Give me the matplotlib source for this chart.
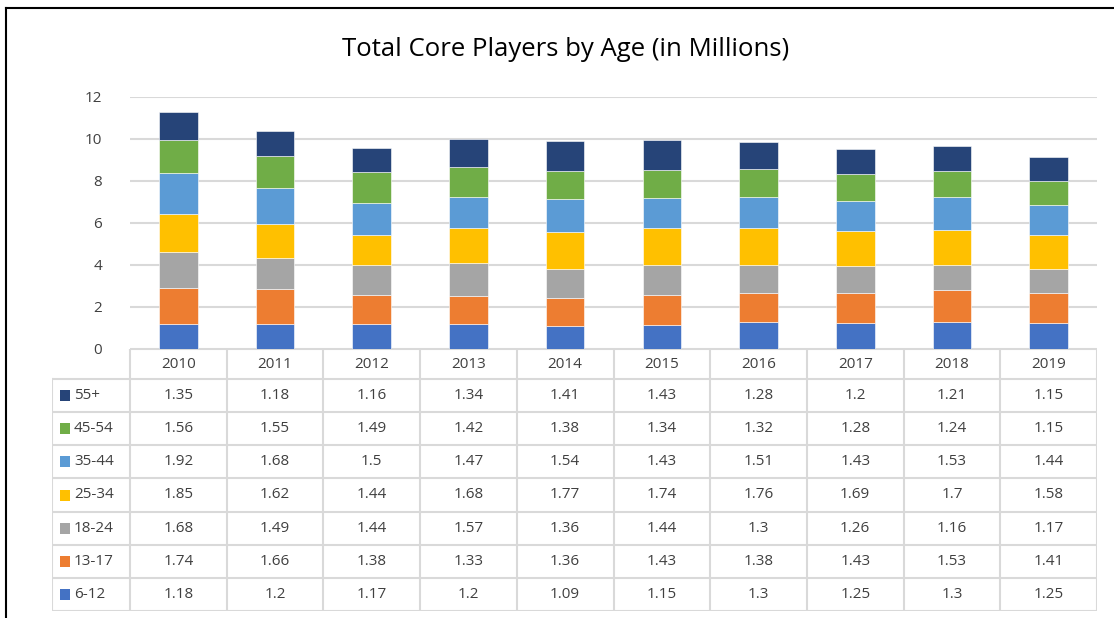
import matplotlib.pyplot as plt
from matplotlib.lines import Line2D
from matplotlib.patches import Rectangle

years = ["2010", "2011", "2012", "2013", "2014", "2015", "2016", "2017", "2018", "2019"]
groups = ["6-12", "13-17", "18-24", "25-34", "35-44", "45-54", "55+"]
colors = ["#4472C4", "#ED7D31", "#A5A5A5", "#FFC000", "#5B9BD5", "#70AD47", "#264478"]

age_6_12 = [1.18, 1.2, 1.17, 1.2, 1.09, 1.15, 1.3, 1.25, 1.3, 1.25]
age_13_17 = [1.74, 1.66, 1.38, 1.33, 1.36, 1.43, 1.38, 1.43, 1.53, 1.41]
age_18_24 = [1.68, 1.49, 1.44, 1.57, 1.36, 1.44, 1.3, 1.26, 1.16, 1.17]
age_25_34 = [1.85, 1.62, 1.44, 1.68, 1.77, 1.74, 1.76, 1.69, 1.7, 1.58]
age_35_44 = [1.92, 1.68, 1.5, 1.47, 1.54, 1.43, 1.51, 1.43, 1.53, 1.44]
age_45_54 = [1.56, 1.55, 1.49, 1.42, 1.38, 1.34, 1.32, 1.28, 1.24, 1.15]
age_55 = [1.35, 1.18, 1.16, 1.34, 1.41, 1.43, 1.28, 1.2, 1.21, 1.15]

series = [age_6_12, age_13_17, age_18_24, age_25_34, age_35_44, age_45_54, age_55]

plt.rcParams['font.family'] = ['Open Sans', 'DejaVu Sans']

W, H = 1114, 618
fig = plt.figure(figsize=(W / 100, H / 100), dpi=100)

# pixel helpers
def fx(px):
    return px / W

def fy(py):
    return 1 - py / H

grid_col = "#d9d9d9"
txt_col = "#404040"
fs = 11

# bar chart area
x0, x1 = 130, 1097
ax = fig.add_axes([fx(x0), fy(349), fx(x1) - fx(x0), fy(97) - fy(349)])
n = len(years)
xs = list(range(n))
bottom = [0] * n
for vals, col in zip(series, colors):
    ax.bar(xs, vals, width=0.4, bottom=bottom, color=col, edgecolor="white", linewidth=0.4, zorder=3)
    bottom = [b + v for b, v in zip(bottom, vals)]
ax.set_xlim(-0.5, n - 0.5)
ax.set_ylim(0, 12)
ax.set_yticks(range(0, 13, 2))
ax.yaxis.grid(True, color=grid_col, linewidth=1.5, zorder=0)
ax.tick_params(axis="y", length=0, pad=20, labelsize=fs, labelcolor=txt_col)
ax.set_xticks([])
for s in ax.spines.values():
    s.set_visible(False)

fig.text(fx(566), fy(49), "Total Core Players by Age (in Millions)", ha="center", va="center",
         fontsize=18.5, color="#000000")

# data table under the bars
tx0 = 52
tab = fig.add_axes([fx(tx0), fy(611), fx(x1) - fx(tx0), fy(349) - fy(611)])
tab.set_xlim(tx0, x1)
tab.set_ylim(611, 349)
tab.axis("off")
cw = (x1 - x0) / n
head_top, head_bot = 349, 379
rh = (611 - head_bot) / len(groups)
lw = 1.5

# horizontal lines
tab.plot([x0, x1], [head_top, head_top], color=grid_col, lw=lw)
for i in range(len(groups) + 1):
    y = head_bot + i * rh
    tab.plot([tx0, x1], [y, y], color=grid_col, lw=lw)
# vertical lines
for j in range(n + 1):
    x = x0 + j * cw
    tab.plot([x, x], [head_top, 611], color=grid_col, lw=lw)
tab.plot([tx0, tx0], [head_bot, 611], color=grid_col, lw=lw)

for j, yr in enumerate(years):
    tab.text(x0 + (j + 0.5) * cw, (head_top + head_bot) / 2 + 1, yr, ha="center", va="center",
             fontsize=fs, color=txt_col)

# rows listed top-down from oldest group
for i, gi in enumerate(reversed(range(len(groups)))):
    yc = head_bot + (i + 0.5) * rh
    tab.add_patch(Rectangle((60, yc - 5.5), 10, 11, color=colors[gi], lw=0))
    tab.text(74, yc, groups[gi], ha="left", va="center", fontsize=fs, color=txt_col)
    for j in range(n):
        tab.text(x0 + (j + 0.5) * cw, yc, f"{series[gi][j]:g}", ha="center", va="center",
                 fontsize=fs, color=txt_col)

# outer frame of the chart object
fig.add_artist(Line2D([fx(6), 1], [fy(8), fy(8)], color="black", lw=1.5))
fig.add_artist(Line2D([fx(6), fx(6)], [fy(8), 0], color="black", lw=1.5))

fig.savefig("out.png", dpi=100, facecolor="white")
